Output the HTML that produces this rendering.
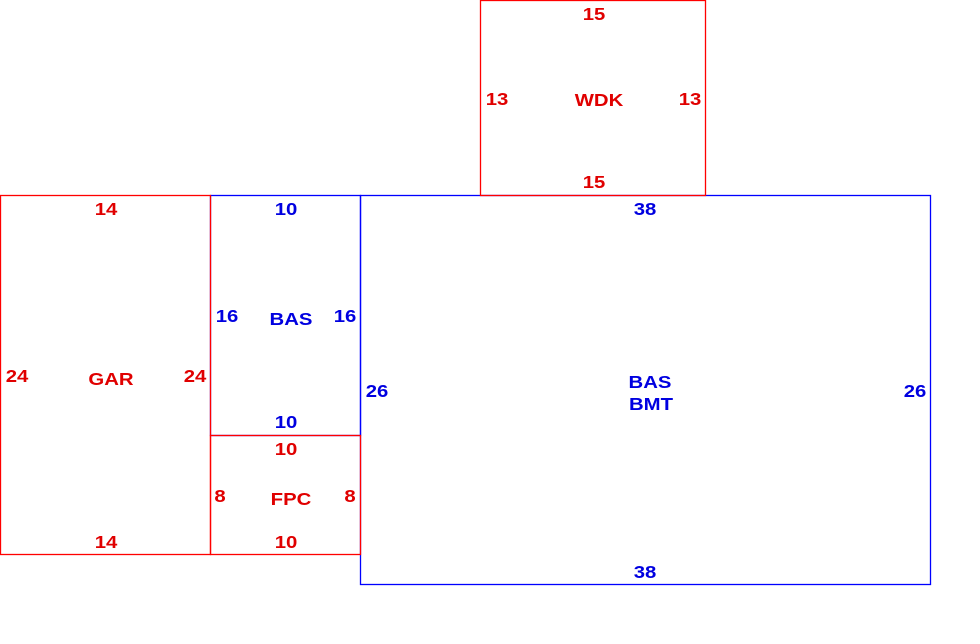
<!DOCTYPE html>
<html><head><meta charset="utf-8"><style>
html,body{margin:0;padding:0;background:#fff;}
svg{display:block}
text{font-family:"Liberation Sans",Arial,sans-serif;font-weight:bold;font-size:18px;text-anchor:middle}
.r{fill:#e00000}.b{fill:#0000e0}
</style></head><body>
<svg width="980" height="644" viewBox="0 0 980 644" xmlns="http://www.w3.org/2000/svg">
<g fill="none" stroke-width="1.3">
<rect x="360.5" y="195.5" width="570" height="389" stroke="#0000ff"/>
<rect x="210.5" y="195.5" width="150" height="240" stroke="#0000ff"/>
<rect x="480.5" y="0.5" width="225" height="195" stroke="#ff0000"/>
<rect x="0.5" y="195.5" width="210" height="359" stroke="#ff0000"/>
<rect x="210.5" y="435.5" width="150" height="119" stroke="#ff0000"/>
</g>
<g class="r">
<text transform="translate(594,20) scale(1.13,1)">15</text>
<text transform="translate(497,105) scale(1.13,1)">13</text>
<text transform="translate(599,106) scale(1.13,1)">WDK</text>
<text transform="translate(690,105) scale(1.13,1)">13</text>
<text transform="translate(594,188) scale(1.13,1)">15</text>
<text transform="translate(106,215) scale(1.13,1)">14</text>
<text transform="translate(17,382) scale(1.13,1)">24</text>
<text transform="translate(111,385) scale(1.13,1)">GAR</text>
<text transform="translate(195,382) scale(1.13,1)">24</text>
<text transform="translate(106,548) scale(1.13,1)">14</text>
<text transform="translate(286,455) scale(1.13,1)">10</text>
<text transform="translate(220,502) scale(1.13,1)">8</text>
<text transform="translate(291,505) scale(1.13,1)">FPC</text>
<text transform="translate(350,502) scale(1.13,1)">8</text>
<text transform="translate(286,548) scale(1.13,1)">10</text>
</g>
<g class="b">
<text transform="translate(645,215) scale(1.13,1)">38</text>
<text transform="translate(377,397) scale(1.13,1)">26</text>
<text transform="translate(650,388) scale(1.13,1)">BAS</text>
<text transform="translate(651,410) scale(1.13,1)">BMT</text>
<text transform="translate(915,397) scale(1.13,1)">26</text>
<text transform="translate(645,578) scale(1.13,1)">38</text>
<text transform="translate(286,215) scale(1.13,1)">10</text>
<text transform="translate(227,322) scale(1.13,1)">16</text>
<text transform="translate(291,325) scale(1.13,1)">BAS</text>
<text transform="translate(345,322) scale(1.13,1)">16</text>
<text transform="translate(286,428) scale(1.13,1)">10</text>
</g>
</svg>
</body></html>
